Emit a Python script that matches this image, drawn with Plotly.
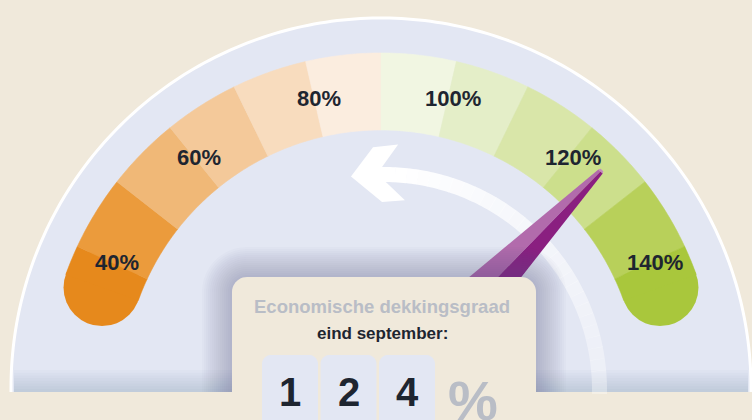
import numpy as np
import plotly.graph_objects as go

# ---------------- data ----------------
seg_bounds = [36, 40, 50, 60, 70, 80, 90, 100, 110, 120, 130, 140, 144]
seg_colors = ["#E6891C", "#EB9B3C", "#F0B877", "#F4C99A", "#F8DCBE", "#FBEDDF",
              "#F1F6E2", "#E4EEC8", "#D9E6A9", "#CCDF8C", "#B8D05A", "#A9C73C"]
tick_values = [40, 60, 80, 100, 120, 140]
tick_labels = ["40%", "60%", "80%", "100%", "120%", "140%"]
ratio_value = 124
ratio_digits = ["1", "2", "4"]
title_line1 = "Economische dekkingsgraad"
title_line2 = "eind september:"

# ---------------- style / geometry ----------------
W, H = 752, 420
BG = "#F0E9DB"
GRAY = "#E3E7F3"
CX, CY = 381, 388          # gauge centre (pixels)
R_BG = 370                 # grey dial radius
BOTTOM = 392               # bottom of grey dial
R_OUT, R_IN = 335, 258     # coloured band
R_MID = (R_OUT + R_IN) / 2
HALF = (R_OUT - R_IN) / 2
DEG_PER_UNIT = 1.3         # degrees per percentage point
LABEL_CX = CX + 5
R_LABEL = 297
NEEDLE_CX = 390
DARK = "#1E2530"
LIGHTTXT = "#B9BDC6"
FONT = "Liberation Sans, Arial, sans-serif"


def ang(v):
    return np.radians(90 - (v - 90) * DEG_PER_UNIT)


def pt(r, a, cx=CX, cy=CY):
    return cx + r * np.cos(a), cy - r * np.sin(a)


def path(points, close=True):
    s = "M " + " L ".join(f"{x:.2f},{y:.2f}" for x, y in points)
    return s + (" Z" if close else "")


def arc_pts(r, a0, a1, n=60, cx=CX, cy=CY):
    return [pt(r, a, cx, cy) for a in np.linspace(a0, a1, n)]


def rounded_top_rect(x0, x1, y0, y1, rad, n=12):
    pts = []
    pts.append((x0, y1))
    for t in np.linspace(np.pi, np.pi / 2, n):
        pts.append((x0 + rad + rad * np.cos(t), y0 + rad - rad * np.sin(t)))
    for t in np.linspace(np.pi / 2, 0, n):
        pts.append((x1 - rad + rad * np.cos(t), y0 + rad - rad * np.sin(t)))
    pts.append((x1, y1))
    return pts


shapes = []

# grey dial
dial = [(CX - R_BG, BOTTOM)] + arc_pts(R_BG, np.pi, 0, 200) + [(CX + R_BG, BOTTOM)]
shapes.append(dict(type="path", path=path(dial), fillcolor=GRAY, line=dict(width=0), layer="above"))
shapes.append(dict(type="path", path=path(dial, close=False), line=dict(color="white", width=3),
                   fillcolor="rgba(0,0,0,0)", layer="above"))

# bottom shading of dial
for k in range(8):
    y0 = BOTTOM - 22 + k * 2.7
    shapes.append(dict(type="rect", x0=CX - R_BG + 3, x1=CX + R_BG - 3, y0=y0, y1=BOTTOM,
                       fillcolor="#5A6480", opacity=0.026, line=dict(width=0), layer="above"))

# end caps of band
for v in (seg_bounds[0], seg_bounds[-1]):
    cx, cy = pt(R_MID, ang(v))
    col = seg_colors[0] if v == seg_bounds[0] else seg_colors[-1]
    shapes.append(dict(type="circle", x0=cx - HALF, x1=cx + HALF, y0=cy - HALF, y1=cy + HALF,
                       fillcolor=col, line=dict(width=0), layer="above"))

# coloured segments
for v0, v1, col in zip(seg_bounds[:-1], seg_bounds[1:], seg_colors):
    a0, a1 = ang(v0), ang(v1)
    pts = arc_pts(R_OUT, a0, a1, 20) + arc_pts(R_IN, a1, a0, 20)
    shapes.append(dict(type="path", path=path(pts), fillcolor=col,
                       line=dict(width=0.6, color=col), layer="above"))

# curved white arrow (gradient by pieces)
ACX, ACY = 384, 390
AR_O, AR_I = 223, 208
n_piece = 30
edges = np.linspace(np.radians(-1), np.radians(90), n_piece + 1)
for i in range(n_piece):
    a0, a1 = edges[i], edges[i + 1] + 0.002
    op = 0.35 + 0.65 * (i / (n_piece - 1)) ** 1.3
    pts = arc_pts(AR_O, a0, a1, 5, ACX, ACY) + arc_pts(AR_I, a1, a0, 5, ACX, ACY)
    shapes.append(dict(type="path", path=path(pts), fillcolor="white", opacity=op,
                       line=dict(width=0), layer="above"))
head = [pt(216, np.radians(98.8), ACX, ACY), pt(243, np.radians(92.6), ACX, ACY),
        pt(246, np.radians(86.7), ACX, ACY), pt(AR_O, np.radians(90.5), ACX, ACY),
        pt(AR_O, np.radians(89.5), ACX, ACY), pt(AR_I, np.radians(89.5), ACX, ACY),
        pt(191, np.radians(83.7), ACX, ACY), pt(188, np.radians(90.6), ACX, ACY)]
shapes.append(dict(type="path", path=path(head), fillcolor="white", line=dict(width=0), layer="above"))

# needle
a = ang(ratio_value)
r_tip, r_base = 302, 40
hw_tip, slope = 3, 0.105
ux, uy = np.cos(a), -np.sin(a)          # along needle (screen coords)
px, py = -np.sin(a), -np.cos(a)          # perpendicular (towards upper-left)
def npt(r, off):
    return NEEDLE_CX + r * ux + off * px, CY + r * uy + off * py
hw_base = hw_tip + slope * (r_tip - r_base)
light = [npt(r_tip, hw_tip), npt(r_tip, 0), npt(r_base, 0), npt(r_base, hw_base)]
dark = [npt(r_tip, 0), npt(r_tip, -hw_tip), npt(r_base, -hw_base), npt(r_base, 0)]
tipcap = [npt(r_tip, hw_tip), npt(r_tip + 2, hw_tip * 0.6), npt(r_tip + 2, -hw_tip * 0.6),
          npt(r_tip, -hw_tip)]
shapes.append(dict(type="path", path=path(light), fillcolor="#B26BAC", line=dict(width=0), layer="above"))
shapes.append(dict(type="path", path=path(dark), fillcolor="#8A1F80", line=dict(width=0), layer="above"))
shapes.append(dict(type="path", path=path(tipcap), fillcolor="#C48ABF", line=dict(width=0), layer="above"))

# info box with shadow
BX0, BX1, BY0 = 232, 536, 277
for off in np.arange(30, 0, -2):
    pts = rounded_top_rect(BX0 - off, BX1 + off, BY0 - off, BOTTOM, 15 + off)
    shapes.append(dict(type="path", path=path(pts), fillcolor="#4A5470", opacity=0.022,
                       line=dict(width=0), layer="above"))
shapes.append(dict(type="path", path=path(rounded_top_rect(BX0, BX1, BY0, H + 20, 15)),
                   fillcolor=BG, line=dict(width=0), layer="above"))

# digit tiles
DX0, DW, DSTEP, DY0 = 262, 56, 58.5, 355
for i, d in enumerate(ratio_digits):
    x0 = DX0 + i * DSTEP
    shapes.append(dict(type="path", path=path(rounded_top_rect(x0, x0 + DW, DY0, H + 20, 9)),
                       fillcolor=GRAY, line=dict(width=0), layer="above"))

annotations = []
for v, lab in zip(tick_values, tick_labels):
    x, y = pt(R_LABEL, ang(v), LABEL_CX, CY)
    annotations.append(dict(x=x, y=y, xref="x", yref="y", text=f"<b>{lab}</b>", showarrow=False,
                            font=dict(family=FONT, size=22, color=DARK), xanchor="center", yanchor="middle"))

annotations.append(dict(x=382, y=306, xref="x", yref="y", text=f"<b>{title_line1}</b>", showarrow=False,
                        font=dict(family=FONT, size=18.5, color=LIGHTTXT), xanchor="center", yanchor="middle"))
annotations.append(dict(x=382, y=333, xref="x", yref="y", text=f"<b>{title_line2}</b>", showarrow=False,
                        font=dict(family=FONT, size=17, color=DARK), xanchor="center", yanchor="middle"))
for i, d in enumerate(ratio_digits):
    x0 = DX0 + i * DSTEP
    annotations.append(dict(x=x0 + DW / 2, y=392, xref="x", yref="y", text=f"<b>{d}</b>", showarrow=False,
                            font=dict(family=FONT, size=40, color=DARK), xanchor="center", yanchor="middle"))
annotations.append(dict(x=473, y=400, xref="x", yref="y", text="<b>%</b>", showarrow=False,
                        font=dict(family=FONT, size=56, color=LIGHTTXT), xanchor="center", yanchor="middle"))

fig = go.Figure()
fig.add_trace(go.Scatter(x=[0, W], y=[0, H], mode="markers", marker=dict(opacity=0),
                         hoverinfo="skip", showlegend=False))
fig.update_layout(
    width=W, height=H, margin=dict(l=0, r=0, t=0, b=0),
    paper_bgcolor=BG, plot_bgcolor=BG,
    xaxis=dict(range=[0, W], visible=False, fixedrange=True),
    yaxis=dict(range=[H, 0], visible=False, fixedrange=True),
    shapes=shapes, annotations=annotations, showlegend=False,
)
fig.write_html("out.html", config={"displayModeBar": False, "responsive": False},
               post_script="document.body.style.margin='0';document.body.style.overflow='hidden';"
                           "document.documentElement.style.background='" + BG + "';")
